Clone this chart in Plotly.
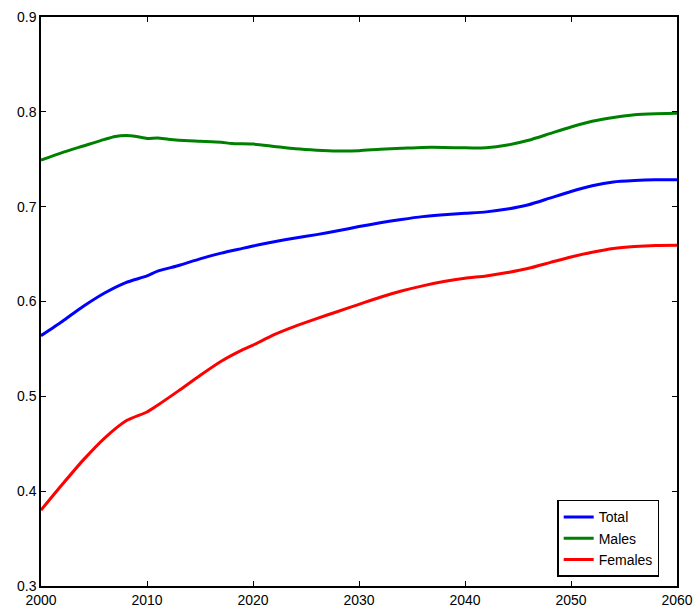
import plotly.graph_objects as go

# values
males_years = [2000, 2002, 2004, 2006, 2007, 2008, 2009, 2010, 2011, 2012, 2013, 2015, 2017, 2018,
               2020, 2022, 2024, 2026, 2028, 2030, 2032, 2034, 2036, 2038, 2040, 2042, 2044, 2046,
               2048, 2050, 2052, 2054, 2056, 2058, 2060]
males = [0.749, 0.757, 0.764, 0.771, 0.774, 0.775, 0.774, 0.772, 0.7725, 0.771, 0.770, 0.769, 0.768,
         0.7665, 0.766, 0.7635, 0.761, 0.7595, 0.7587, 0.759, 0.7605, 0.7615, 0.7625, 0.7625, 0.762,
         0.7622, 0.765, 0.770, 0.777, 0.784, 0.790, 0.794, 0.797, 0.798, 0.7985]

years = [2000, 2002, 2004, 2006, 2008, 2010, 2011, 2013, 2015, 2017, 2019, 2020, 2022, 2024, 2026,
         2028, 2030, 2032, 2034, 2036, 2038, 2040, 2042, 2044, 2046, 2048, 2050, 2052, 2054, 2056,
         2058, 2060]
total = [0.564, 0.579, 0.595, 0.609, 0.620, 0.627, 0.632, 0.638, 0.645, 0.651, 0.656, 0.6585, 0.663,
         0.667, 0.6705, 0.6745, 0.679, 0.683, 0.6865, 0.6895, 0.6915, 0.693, 0.6945, 0.6975, 0.702,
         0.709, 0.716, 0.722, 0.726, 0.7275, 0.7283, 0.7285]
females = [0.380, 0.407, 0.433, 0.456, 0.474, 0.4835, 0.4906, 0.506, 0.522, 0.537, 0.549, 0.554,
           0.565, 0.574, 0.582, 0.5895, 0.597, 0.6045, 0.611, 0.6165, 0.621, 0.6245, 0.627, 0.6305,
           0.635, 0.641, 0.647, 0.652, 0.656, 0.658, 0.659, 0.6592]

x_ticks = [2000, 2010, 2020, 2030, 2040, 2050, 2060]
y_ticks = [0.3, 0.4, 0.5, 0.6, 0.7, 0.8, 0.9]

fig = go.Figure()
fig.add_trace(go.Scatter(x=years, y=total, mode="lines", name="Total",
                         line=dict(color="#0000ff", width=3, shape="spline", smoothing=0.6)))
fig.add_trace(go.Scatter(x=males_years, y=males, mode="lines", name="Males",
                         line=dict(color="#008000", width=3, shape="spline", smoothing=0.6)))
fig.add_trace(go.Scatter(x=years, y=females, mode="lines", name="Females",
                         line=dict(color="#ff0000", width=3, shape="spline", smoothing=0.6)))

axis_style = dict(
    showgrid=False,
    zeroline=False,
    showline=True,
    linecolor="black",
    linewidth=1.5,
    mirror="ticks",
    ticks="inside",
    ticklen=5,
    tickcolor="black",
    tickfont=dict(size=14, color="black"),
)

fig.update_xaxes(range=[2000, 2060], tickvals=x_ticks,
                 ticktext=[str(t) for t in x_ticks], **axis_style)
fig.update_yaxes(range=[0.3, 0.9], tickvals=y_ticks,
                 ticktext=[f"{t:.1f}" for t in y_ticks], **axis_style)

fig.update_layout(
    width=695,
    height=613,
    font_family="Liberation Sans",
    plot_bgcolor="white",
    paper_bgcolor="white",
    margin=dict(l=41, r=18, t=17, b=27, autoexpand=False),
    legend=dict(
        x=0.972, y=0.016, xanchor="right", yanchor="bottom",
        bgcolor="white", bordercolor="black", borderwidth=1.5,
        font=dict(size=14, color="black"),
        tracegroupgap=0, itemwidth=30,
    ),
)

# drop the page's default body margin so the figure sits at the window's corner
fig.write_html("out.html", config={"displayModeBar": False},
               post_script="document.body.style.margin='0';")
